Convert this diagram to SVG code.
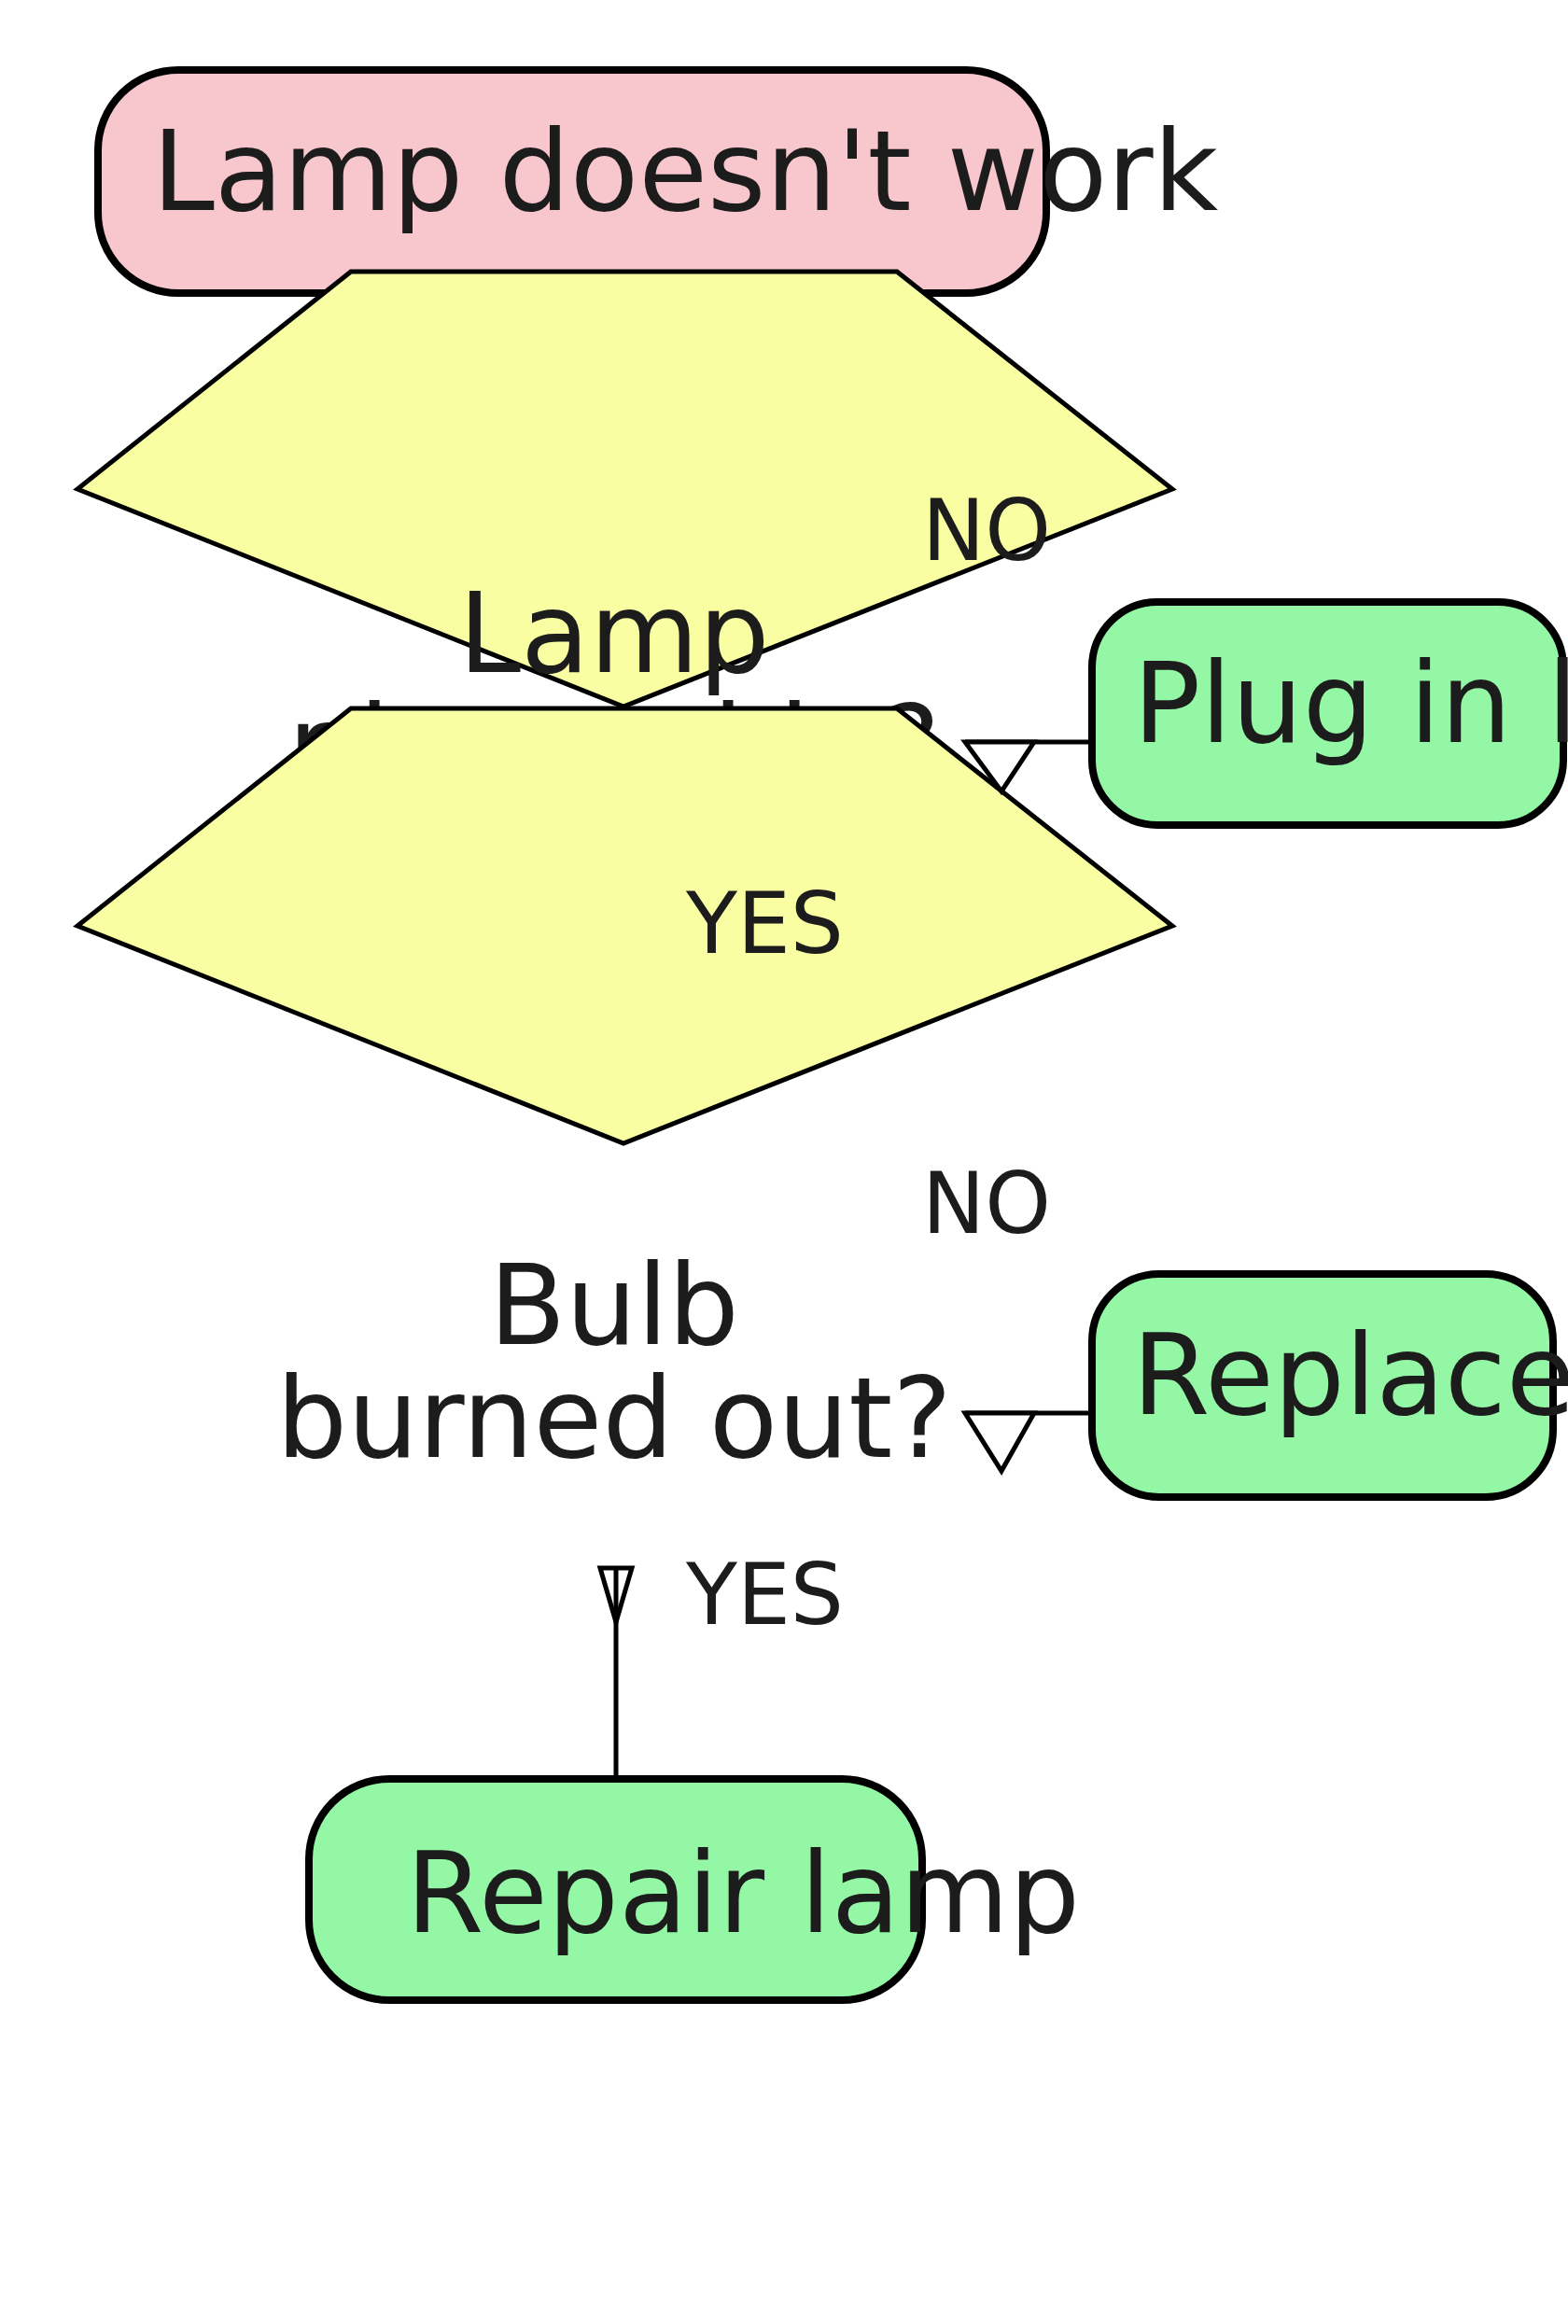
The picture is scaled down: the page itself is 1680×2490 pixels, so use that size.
<svg xmlns="http://www.w3.org/2000/svg" width="1680" height="2490" viewBox="0 0 1680 2490">
<style>
  .term { fill: #f8c6cd; stroke: #000; stroke-width: 8; }
  .act { fill: #94f7a5; stroke: #000; stroke-width: 8; }
  .dec { fill: #f9fea2; stroke: #000; stroke-width: 5; stroke-linejoin: miter; }
  .lbl { font-family: "DejaVu Sans", sans-serif; font-size: 120px; fill: #1c1c1c; }
  .elbl { font-family: "DejaVu Sans", sans-serif; font-size: 90px; fill: #1c1c1c; }
  .line { fill: none; stroke: #000; stroke-width: 5; }
  .head { fill: #fff; stroke: #000; stroke-width: 5; stroke-linejoin: miter; }
</style>
<rect width="1680" height="2490" fill="#ffffff"/>
<g id="start">
  <rect class="term" x="105" y="75" width="1016" height="239" rx="86" ry="86"/>
  <text class="lbl" x="163" y="225">Lamp doesn't work</text>
</g>
<g id="plugged">
  <polygon class="dec" points="376,291 961,291 1256,524 668,757 83,524"/>
  <text class="lbl" text-anchor="middle" x="658" y="720">Lamp</text>
  <text class="lbl" text-anchor="middle" x="658" y="841">plugged in?</text>
</g>
<g id="bulb">
  <polygon class="dec" points="376,759 961,759 1256,992 668,1225 83,992"/>
  <text class="lbl" text-anchor="middle" x="658" y="1440">Bulb</text>
  <text class="lbl" text-anchor="middle" x="658" y="1561">burned out?</text>
</g>
<g id="plugin">
  <rect class="act" x="1170" y="645" width="505" height="239" rx="70" ry="70"/>
  <text class="lbl" x="1214" y="795">Plug in lamp</text>
</g>
<g id="replace">
  <rect class="act" x="1170" y="1365" width="494" height="239" rx="72" ry="72"/>
  <text class="lbl" x="1213" y="1515">Replace bulb</text>
</g>
<g id="repair">
  <rect class="act" x="331" y="1906" width="657" height="237" rx="86" ry="86"/>
  <text class="lbl" x="435" y="2070">Repair lamp</text>
</g>
<g id="connectors">
  <line class="line" x1="1170" y1="795" x2="1034" y2="795"/>
  <polygon class="head" points="1034,795 1108,795 1073,848"/>
  <text class="elbl" x="988" y="600">NO</text>
  <text class="elbl" x="735" y="1021">YES</text>
  <line class="line" x1="1170" y1="1514" x2="1034" y2="1514"/>
  <polygon class="head" points="1034,1514 1108,1514 1073,1576"/>
  <text class="elbl" x="988" y="1321">NO</text>
  <polygon class="head" points="643,1680 677,1680 660,1738"/>
  <line class="line" x1="660" y1="1904" x2="660" y2="1680"/>
  <text class="elbl" x="735" y="1740">YES</text>
</g>
</svg>
